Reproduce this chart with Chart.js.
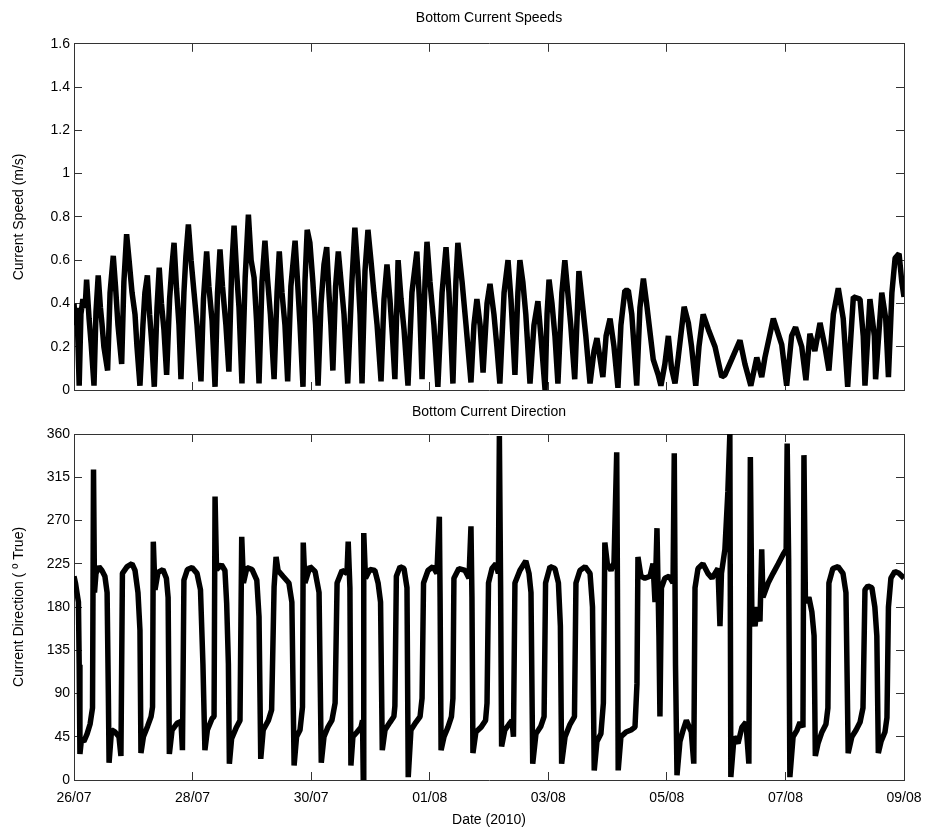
<!DOCTYPE html>
<html>
<head>
<meta charset="utf-8">
<script src="https://cdn.jsdelivr.net/npm/chart.js@4.4.1/dist/chart.umd.min.js"></script>
<style>
  html, body { margin: 0; padding: 0; background: #fff; }
  #wrap { position: relative; width: 928px; height: 835px; }
  #speedChart { position: absolute; left: 0; top: 0; }
  #dirChart { position: absolute; left: 0; top: 400px; }
</style>
</head>
<body>
<div id="wrap">
  <canvas id="speedChart" width="928" height="400"></canvas>
  <canvas id="dirChart" width="928" height="435"></canvas>
</div>
<script>
// hours since 26/07 00:00 -> value
const speedReadings = [
  [0,0.40],[0.6,0.30],[1.2,0.38],[2.1,0.02],[2.8,0.35],[3.6,0.42],[4.5,0.38],[5.1,0.51],[6.1,0.33],[6.9,0.22],
  [8.1,0.02],[8.9,0.36],[9.8,0.53],[10.7,0.38],[11.3,0.31],[12.1,0.20],[13.6,0.09],[14.6,0.45],[15.9,0.62],[16.8,0.48],
  [17.8,0.30],[19.3,0.12],[20.2,0.50],[21.3,0.72],[22.3,0.60],[23.5,0.45],[24.7,0.35],[25.5,0.20],[26.7,0.02],[27.9,0.30],
  [28.7,0.45],[29.7,0.53],[30.6,0.35],[31.6,0.20],[32.5,0.015],[33.6,0.38],[34.5,0.565],[35.4,0.40],[36.4,0.28],[37.5,0.07],
  [38.7,0.42],[39.7,0.58],[40.5,0.68],[41.5,0.47],[42.5,0.30],[43.3,0.05],[44.5,0.45],[45.3,0.62],[46.3,0.765],[47.4,0.60],
  [48.6,0.45],[49.8,0.30],[51.4,0.04],[52.4,0.42],[53.7,0.64],[54.6,0.48],[55.9,0.32],[57.1,0.015],[58.1,0.45],[59.1,0.65],
  [60.1,0.48],[61.5,0.30],[62.7,0.085],[63.8,0.55],[64.8,0.76],[65.8,0.55],[66.8,0.38],[68.0,0.03],[69.3,0.52],[70.6,0.81],
  [71.7,0.60],[72.9,0.52],[73.9,0.32],[74.9,0.03],[76.1,0.50],[77.3,0.69],[78.3,0.52],[79.5,0.35],[81.0,0.05],[82.2,0.45],
  [83.1,0.64],[84.2,0.45],[85.4,0.30],[86.5,0.04],[87.8,0.48],[89.5,0.69],[90.5,0.50],[91.5,0.30],[92.7,0.015],[93.5,0.50],
  [94.4,0.74],[95.5,0.68],[96.7,0.50],[97.8,0.30],[98.8,0.02],[100.0,0.40],[101.2,0.58],[102.3,0.66],[103.2,0.45],[104.0,0.30],
  [104.8,0.09],[105.9,0.48],[107.0,0.64],[108.1,0.50],[109.3,0.35],[110.8,0.03],[112.5,0.50],[113.7,0.75],[114.9,0.55],[115.8,0.35],
  [116.6,0.03],[117.8,0.55],[119.0,0.74],[120.2,0.60],[121.4,0.45],[122.7,0.30],[124.3,0.04],[125.5,0.42],[126.7,0.58],[127.9,0.42],
  [128.9,0.25],[129.9,0.05],[131.2,0.60],[132.4,0.42],[133.6,0.28],[135.2,0.02],[136.8,0.45],[138.8,0.64],[139.9,0.40],[140.9,0.05],
  [142.1,0.50],[142.9,0.685],[144.1,0.50],[145.7,0.30],[147.3,0.015],[149.0,0.45],[150.6,0.66],[151.8,0.45],[153.4,0.03],[154.6,0.50],
  [155.4,0.68],[157.1,0.50],[158.7,0.30],[160.7,0.035],[161.9,0.30],[163.1,0.42],[164.4,0.30],[165.6,0.08],[167.2,0.40],[168.4,0.49],
  [170.0,0.35],[171.2,0.20],[172.4,0.03],[174.1,0.45],[175.7,0.60],[176.9,0.42],[178.5,0.07],[179.7,0.45],[180.5,0.60],[181.7,0.50],
  [182.9,0.35],[184.6,0.03],[186.2,0.30],[187.8,0.41],[189.0,0.25],[190.7,0.0],[191.5,0.35],[192.3,0.51],[193.5,0.40],[194.7,0.25],
  [195.9,0.03],[197.5,0.45],[198.7,0.60],[199.9,0.45],[201.1,0.30],[202.7,0.05],[204.4,0.55],[205.6,0.42],[207.2,0.25],[208.9,0.03],
  [210.5,0.18],[211.7,0.24],[212.9,0.15],[214.1,0.06],[215.4,0.25],[217.0,0.33],[218.6,0.20],[220.2,0.01],[221.4,0.30],[223.0,0.46],
  [224.4,0.46],[225.8,0.35],[227.8,0.02],[229.1,0.38],[230.5,0.515],[231.8,0.40],[234.5,0.14],[236.5,0.07],[237.6,0.02],[239.2,0.12],
  [240.6,0.25],[241.9,0.10],[243.3,0.03],[244.6,0.15],[247.0,0.385],[248.7,0.31],[250.0,0.20],[251.7,0.02],[253.0,0.20],[254.7,0.35],
  [256.8,0.28],[259.5,0.20],[262.2,0.06],[263.5,0.07],[266.2,0.14],[269.6,0.23],[271.6,0.12],[274.0,0.02],[276.4,0.15],[278.4,0.06],
  [279.7,0.15],[283.1,0.33],[286.5,0.21],[288.5,0.02],[290.5,0.25],[292.1,0.29],[294.6,0.20],[296.3,0.045],[297.9,0.26],[299.9,0.18],
  [302.0,0.31],[304.0,0.20],[305.6,0.09],[307.4,0.35],[309.4,0.47],[311.4,0.33],[313.2,0.015],[315.5,0.43],[318.2,0.42],[319.5,0.25],
  [320.2,0.02],[322.2,0.42],[324.0,0.25],[324.5,0.05],[327.0,0.45],[328.6,0.33],[329.7,0.06],[331.1,0.45],[332.4,0.61],[334.0,0.63],
  [335.1,0.50],[336,0.43]
];

// hours since 26/07 00:00 -> degrees true
const directionReadings = [
  [0,212],[0.6,205],[1.2,195],[1.8,185],[2.1,120],[2.4,27],[3.0,42],[4.0,40],[5.3,48],[6.5,58],
  [7.5,75],[7.9,323],[8.3,195],[8.9,215],[10.1,222],[11.3,218],[12.5,212],[13.4,195],[13.9,90],[14.2,18],
  [15.2,52],[16.6,50],[18.2,45],[19.0,25],[19.6,215],[21.5,222],[23.5,225],[24.7,218],[25.9,195],[26.7,156],
  [27.1,28],[28.1,45],[29.8,56],[31.2,66],[31.8,76],[32.1,248],[32.8,198],[34.0,216],[36.0,219],[37.4,210],
  [38.1,190],[38.6,27],[39.7,52],[41.7,59],[43.3,61],[43.9,31],[44.5,208],[45.9,219],[47.8,221],[49.8,215],
  [51.2,198],[52.2,120],[53.0,31],[54.0,52],[55.9,64],[56.7,66],[57.1,295],[57.7,219],[59.7,224],[61.1,218],
  [61.8,184],[62.5,121],[62.9,17],[63.8,43],[65.6,54],[67.2,62],[67.9,253],[68.6,205],[70.0,221],[72.1,219],
  [74.0,208],[74.9,170],[75.6,22],[76.6,52],[78.7,62],[80.0,73],[81.0,201],[81.8,232],[82.6,218],[84.6,212],
  [87.0,205],[88.2,185],[89.1,15],[90.1,45],[91.5,52],[92.5,76],[92.8,247],[93.5,205],[95.5,222],[97.6,217],
  [99.2,195],[100.1,18],[101.2,45],[102.8,55],[104.4,62],[105.7,80],[106.5,205],[108.5,218],[110.5,215],[111.0,248],
  [111.7,200],[112.1,15],[112.9,45],[114.6,50],[116.2,55],[116.8,62],[117.1,0],[117.3,257],[118.0,210],[119.8,219],
  [121.8,218],[123.1,205],[124.1,185],[124.8,31],[125.9,52],[127.9,60],[129.5,66],[129.9,77],[130.5,212],[132.0,222],
  [133.6,220],[134.8,200],[135.3,3],[136.4,52],[138.4,60],[140.1,66],[140.9,85],[141.5,205],[143.3,218],[145.3,222],
  [146.9,215],[147.9,274],[148.2,190],[148.6,31],[149.8,45],[151.4,55],[152.8,66],[153.4,85],[153.8,210],[155.8,220],
  [158.3,218],[159.9,210],[160.7,264],[161.1,190],[161.5,28],[162.7,50],[164.8,55],[166.6,62],[167.2,80],[167.8,205],
  [169.2,220],[170.8,225],[171.8,215],[172.2,358],[172.7,200],[173.1,35],[174.4,52],[176.1,58],[177.3,62],[177.9,45],
  [178.5,205],[180.5,218],[182.9,228],[184.2,215],[185.0,195],[185.7,17],[187.0,48],[189.0,56],[190.3,66],[190.9,205],
  [192.7,222],[194.7,220],[196.1,205],[196.9,160],[197.4,17],[198.8,45],[200.8,58],[202.6,66],[203.2,205],[204.8,218],
  [206.9,222],[208.9,215],[209.9,180],[210.6,10],[211.7,40],[213.3,48],[214.3,80],[214.9,247],[215.9,225],[217.4,218],
  [218.6,226],[219.7,341],[220.0,200],[220.3,10],[221.4,45],[223.5,50],[225.5,52],[227.1,55],[227.9,100],[228.3,232],
  [229.5,212],[231.1,210],[233.2,212],[234.4,225],[235.2,185],[236.0,262],[236.8,150],[237.2,66],[237.8,200],[239.2,210],
  [240.9,212],[242.5,205],[243.0,340],[243.5,120],[244.1,5],[245.3,40],[246.6,52],[247.9,62],[249.9,50],[250.9,17],
  [251.4,200],[252.6,220],[254.6,225],[256.6,215],[258.3,210],[260.7,220],[261.5,160],[262.1,215],[263.5,240],[264.7,300],
  [265.5,360],[265.9,3],[267.2,45],[268.8,38],[270.4,55],[272.0,60],[273.2,17],[273.8,336],[274.4,175],[275.7,160],
  [276.5,180],[277.7,165],[278.4,240],[278.9,190],[281.0,205],[283.0,215],[285.1,225],[287.1,235],[288.3,240],[288.7,350],
  [289.3,230],[289.8,3],[291.1,45],[292.7,52],[293.9,60],[295.1,55],[295.5,338],[296.1,185],[297.5,190],[298.7,175],
  [299.6,150],[300.1,25],[301.2,38],[302.8,50],[304.4,58],[305.2,75],[305.6,205],[307.2,220],[309.3,222],[311.3,215],
  [312.5,195],[313.4,28],[314.9,45],[316.6,52],[318.2,60],[319.4,75],[320.2,198],[321.4,202],[323.0,200],[324.2,180],
  [325.0,150],[325.6,28],[326.7,40],[328.3,50],[329.1,65],[329.7,180],[330.7,210],[332.3,217],[334.0,215],[336,210]
];

const dateLabels = ['26/07', '28/07', '30/07', '01/08', '03/08', '05/08', '07/08', '09/08'];

const FONT = "'Liberation Sans Narrow', 'Liberation Sans', Arial, sans-serif";
const AXIS = '#333';
Chart.defaults.font.family = FONT;
Chart.defaults.font.size = 14;
Chart.defaults.color = '#000';
Chart.defaults.animation = false;

// matlab style box: ticks on all four sides, pointing inwards
function boxAxis(position, min, max, step, extra) {
  return Object.assign({
    type: 'linear',
    position: position,
    min: min,
    max: max,
    ticks: { stepSize: step, display: false, autoSkip: false, maxRotation: 0 },
    grid: { drawOnChartArea: false, drawTicks: true, tickLength: -8, color: AXIS, lineWidth: 1 },
    border: { display: true, color: AXIS, width: 1 }
  }, extra);
}

function lineSet(readings, width) {
  return {
    data: readings.map(([h, v]) => ({ x: h, y: v })),
    borderColor: '#000',
    borderWidth: width,
    borderJoinStyle: 'bevel',
    pointRadius: 0,
    tension: 0,
    xAxisID: 'x',
    yAxisID: 'y'
  };
}

function titleOpts(text, padTop, padBottom) {
  return {
    display: true, text: text, fullSize: false,
    font: { size: 14, weight: 'normal' }, color: '#000',
    padding: { top: padTop, bottom: padBottom }
  };
}

// keep the plot box fixed even when the end tick labels overhang it
function fixBox(width, height) {
  return s => {
    if (width !== null) s.width = width;
    if (height !== null) s.height = height;
    s.paddingLeft = 0;
    s.paddingRight = 0;
    s.paddingTop = 0;
    s.paddingBottom = 0;
  };
}

// top panel: speed
new Chart(document.getElementById('speedChart'), {
  type: 'line',
  data: { datasets: [lineSet(speedReadings, 5.5)] },
  options: {
    responsive: false,
    layout: { padding: 0 },
    plugins: {
      legend: { display: false },
      tooltip: { enabled: false },
      title: titleOpts('Bottom Current Speeds', 10, 17)
    },
    scales: {
      x: boxAxis('bottom', 0, 336, 48, { afterFit: fixBox(null, 10) }),
      xTop: boxAxis('top', 0, 336, 48, { afterFit: fixBox(null, 0) }),
      y: boxAxis('left', 0, 1.6, 0.2, {
        ticks: { stepSize: 0.2, display: true, padding: 12, callback: v => String(Number(v.toFixed(1))) },
        title: { display: true, text: 'Current Speed (m/s)', font: { size: 14 }, padding: { top: 11 } },
        afterFit: fixBox(74, null)
      }),
      yRight: boxAxis('right', 0, 1.6, 0.2, { afterFit: fixBox(24, null) })
    }
  }
});

// bottom panel: direction
new Chart(document.getElementById('dirChart'), {
  type: 'line',
  data: { datasets: [lineSet(directionReadings, 5.5)] },
  options: {
    responsive: false,
    layout: { padding: 0 },
    plugins: {
      legend: { display: false },
      tooltip: { enabled: false },
      title: titleOpts('Bottom Current Direction', 3.6, 13.6)
    },
    scales: {
      x: boxAxis('bottom', 0, 336, 48, {
        ticks: { stepSize: 48, display: true, padding: 17.6, autoSkip: false, maxRotation: 0,
                 callback: v => dateLabels[Math.round(v / 48)] },
        title: { display: true, text: 'Date (2010)', font: { size: 14 }, padding: { top: 0, bottom: 6.6 } },
        afterFit: fixBox(null, 55)
      }),
      xTop: boxAxis('top', 0, 336, 48, { afterFit: fixBox(null, 0) }),
      y: boxAxis('left', 0, 360, 45, {
        ticks: { stepSize: 45, display: true, padding: 12 },
        title: { display: true, text: 'Current Direction ( º True)', font: { size: 14 }, padding: { top: 11 } },
        afterFit: fixBox(74, null)
      }),
      yRight: boxAxis('right', 0, 360, 45, { afterFit: fixBox(24, null) })
    }
  }
});
</script>
</body>
</html>
